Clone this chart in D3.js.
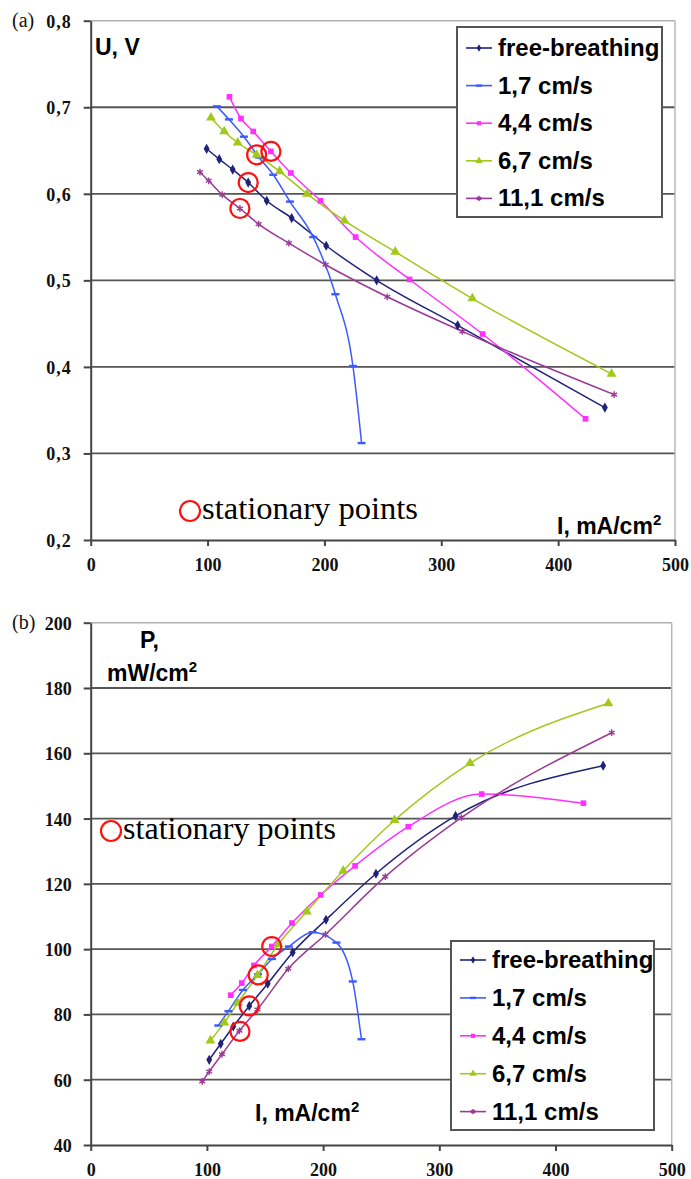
<!DOCTYPE html>
<html>
<head>
<meta charset="utf-8">
<script src="https://d3js.org/d3.v7.min.js"></script>
<style>
body { margin: 0; background: #fff; }
svg { display: block; }
.tick text { font-family: "Liberation Serif", "Times New Roman", serif; font-weight: bold; font-size: 18px; fill: #111; }
.lbl { font-family: "Liberation Sans", Arial, sans-serif; font-weight: bold; font-size: 23px; fill: #000; }
.panel { font-family: "Liberation Serif", "Times New Roman", serif; font-size: 20px; fill: #111; }
.stat { font-family: "Liberation Serif", "Times New Roman", serif; font-size: 31px; fill: #000; }
</style>
</head>
<body>
<svg></svg>
<script>
var width = 691, height = 1179;

var names = ["free-breathing", "1,7 cm/s", "4,4 cm/s", "6,7 cm/s", "11,1 cm/s"];
var colors = ["#1f2278", "#3c5bff", "#ff30ff", "#a2c81a", "#9b3a96"];
var markers = ["diamond", "dash", "square", "triangle", "star"];

// (a) voltage U, V against current density I, mA/cm2
var uFree = [[99.2,0.652],[110,0.640],[121.5,0.628],[134.8,0.613],[150.6,0.592],[172,0.572],[201.5,0.540],[244.7,0.500],[314,0.448],[440,0.353]];
var u17 = [[108,0.701],[118.3,0.686],[131.1,0.666],[144,0.642],[156.2,0.622],[170.5,0.591],[190.4,0.550],[209.4,0.484],[224.4,0.401],[231.8,0.312]];
var u44 = [[118.7,0.712],[128.6,0.687],[139.1,0.672],[154.2,0.649],[171.3,0.624],[196.6,0.592],[226.7,0.550],[272.9,0.501],[335.3,0.438],[423.4,0.340]];
var u67 = [[102.9,0.688],[114.2,0.672],[125.8,0.659],[142,0.645],[161.7,0.626],[185.2,0.600],[217.1,0.569],[260.6,0.533],[326.6,0.479],[445.7,0.392]];
var u111 = [[93.5,0.625],[101,0.615],[112.5,0.599],[127.7,0.583],[143.7,0.565],[169.6,0.543],[201,0.518],[253.7,0.481],[318,0.441],[447.9,0.368]];
var uStat = [[134.8,0.613],[154.2,0.649],[142,0.645],[127.7,0.583]];

// (b) power P, mW/cm2 against current density
var pFree = [[102,66.1],[111.9,71.0],[122.7,76.3],[136.5,82.6],[152.3,89.4],[173.8,99.0],[202.5,109],[245.5,123.1],[314,140.8],[441,156.2]];
var p17 = [[109.8,76.6],[118.5,81],[131,87.5],[144,92.3],[156,97],[170.5,100.8],[191,105.2],[211.5,102],[225.5,90.1],[233,72.4]];
var p44 = [[120.5,85.9],[130,89.6],[140.5,95],[155.8,100.8],[173.2,108],[197.9,116.6],[227.5,125.5],[273.3,137.5],[336.5,147.5],[424,144.7]];
var p67 = [[103,72],[115,77.5],[126.5,83.5],[143.5,92],[161.5,101.5],[186,111.5],[217.3,124],[261.5,139.5],[326.5,157],[445.5,175.3]];
var p111 = [[96,59.5],[102,62.5],[113,67.8],[128,75],[143.5,81.5],[170,94],[202,104.5],[253.5,122.2],[319,140.3],[448.4,166.3]];
var pStat = [[136.5,82.6],[155.8,100.8],[144.2,92.1],[128.5,74.8]];

var xTicks = [0, 100, 200, 300, 400, 500];
var uTicks = [0.2, 0.3, 0.4, 0.5, 0.6, 0.7, 0.8];
var pTicks = [40, 60, 80, 100, 120, 140, 160, 180, 200];

var svg = d3.select("svg").attr("width", width).attr("height", height);
var commaFmt = d3.formatLocale({ decimal: ",", thousands: " ", grouping: [3], currency: ["", ""] }).format(".1f");

function drawMarker(g, type, x, y, color, s) {
	s = s || 1;
	if (type == "dash") {
		g.append("rect").attr("x", x - 4 * s).attr("y", y - 1.2).attr("width", 8 * s).attr("height", 2.4).style("fill", color);
		return;
	}
	var sym = { diamond: d3.symbolDiamond, square: d3.symbolSquare, triangle: d3.symbolTriangle, star: d3.symbolAsterisk }[type];
	var size = { diamond: 30, square: 32, triangle: 42, star: 32 }[type] * s * s;
	var p = g.append("path").attr("d", d3.symbol().type(sym).size(size)()).attr("transform", "translate(" + x + "," + y + ")");
	if (type == "star") { p.style("fill", "none").style("stroke", color).style("stroke-width", 1.4); }
	else { p.style("fill", color); }
}

function drawPanel(cfg) {
	var g = svg.append("g");
	var x = d3.scaleLinear().domain([0, 500]).range([cfg.left, cfg.right]);
	var y = d3.scaleLinear().domain(cfg.yDomain).range([cfg.bottom, cfg.top]);

	// grid lines; the top one is the light plot border
	g.selectAll("line.grid").data(cfg.yTicks.slice(1)).enter().append("line")
	.attr("x1", cfg.left).attr("x2", cfg.right)
	.attr("y1", function(d) { return y(d); }).attr("y2", function(d) { return y(d); })
	.style("stroke", function(d, i) { return i == cfg.yTicks.length - 2 ? "#b0b0b0" : "#555"; })
	.style("stroke-width", function(d, i) { return i == cfg.yTicks.length - 2 ? 1.5 : 1.8; });
	g.append("line").attr("x1", cfg.right).attr("x2", cfg.right).attr("y1", cfg.top).attr("y2", cfg.bottom)
	.style("stroke", "#b8b8b8").style("stroke-width", 1.5);

	var yAxis = g.append("g").attr("transform", "translate(" + cfg.left + ",0)")
	.call(d3.axisLeft(y).tickValues(cfg.yTicks).tickFormat(cfg.fmt).tickSize(7).tickSizeOuter(0).tickPadding(12));
	yAxis.selectAll("text").attr("dy", "0.36em").style("letter-spacing", cfg.spacing);
	var xAxis = g.append("g").attr("transform", "translate(0," + cfg.bottom + ")")
	.call(d3.axisBottom(x).tickValues(xTicks).tickFormat(d3.format("d")).tickSize(6).tickSizeOuter(0).tickPadding(12));
	g.selectAll(".domain, .tick line").style("stroke", "#444").style("stroke-width", 2);

	var line = d3.line().x(function(d) { return x(d[0]); }).y(function(d) { return y(d[1]); }).curve(d3.curveMonotoneX);
	cfg.series.forEach(function(s, i) {
		g.append("path").datum(s).attr("d", line)
		.style("fill", "none").style("stroke", colors[i]).style("stroke-width", 1.5);
	});
	cfg.series.forEach(function(s, i) {
		s.forEach(function(d) { drawMarker(g, markers[i], x(d[0]), y(d[1]), colors[i]); });
	});
	g.selectAll("circle.st").data(cfg.stat).enter().append("circle")
	.attr("cx", function(d) { return x(d[0]); }).attr("cy", function(d) { return y(d[1]); })
	.attr("r", 9.5).style("fill", "none").style("stroke", "#ff1010").style("stroke-width", 2.2);

	// series legend
	var L = cfg.legend;
	g.append("rect").attr("x", L.x).attr("y", L.y).attr("width", L.w).attr("height", L.h)
	.style("fill", "#fff").style("stroke", "#555").style("stroke-width", 2);
	names.forEach(function(n, i) {
		var ly = L.y + L.first + i * L.step;
		g.append("line").attr("x1", L.x + 9).attr("x2", L.x + 35).attr("y1", ly).attr("y2", ly)
		.style("stroke", colors[i]).style("stroke-width", 1.6);
		drawMarker(g, markers[i], L.x + 22, ly, colors[i], 0.75);
		g.append("text").attr("class", "lbl").attr("x", L.x + 41).attr("y", ly + 8).style("font-size", "24px").text(n);
	});

	// stationary points key
	g.append("circle").attr("cx", cfg.statKey[0]).attr("cy", cfg.statKey[1]).attr("r", 10)
	.style("fill", "none").style("stroke", "#ff1010").style("stroke-width", 2.2);
	g.append("text").attr("class", "stat").attr("x", cfg.statKey[0] + 12).attr("y", cfg.statKey[1] + 8)
	.attr("textLength", cfg.statKey[2]).attr("lengthAdjust", "spacingAndGlyphs").text("stationary points");

	g.append("text").attr("class", "panel").attr("x", 12).attr("y", cfg.top + 6).text(cfg.panel);
	cfg.labels.forEach(function(l) {
		var t = g.append("text").attr("class", "lbl").attr("x", l[0]).attr("y", l[1]).text(l[2]);
		if (l[3]) { t.append("tspan").attr("dy", -9).style("font-size", "15px").text(l[3]); }
	});
}

drawPanel({
	left: 90.7, right: 675, top: 20.7, bottom: 540,
	yDomain: [0.2, 0.8], yTicks: uTicks, fmt: commaFmt, spacing: "1px",
	series: [uFree, u17, u44, u67, u111], stat: uStat,
	legend: { x: 457, y: 27, w: 205, h: 190, first: 21, step: 37.6 },
	statKey: [190, 511, 216],
	panel: "(a)",
	labels: [[95, 55, "U, V"], [557, 534, "I, mA/cm", "2"]]
});

drawPanel({
	left: 90.7, right: 671.7, top: 622.7, bottom: 1145,
	yDomain: [40, 200], yTicks: pTicks, fmt: d3.format("d"), spacing: "0px",
	series: [pFree, p17, p44, p67, p111], stat: pStat,
	legend: { x: 451, y: 941, w: 203, h: 189, first: 19, step: 37.9 },
	statKey: [111, 831, 213],
	panel: "(b)",
	labels: [[140, 648, "P,"], [107, 681, "mW/cm", "2"], [255, 1121, "I, mA/cm", "2"]]
});
</script>
</body>
</html>
